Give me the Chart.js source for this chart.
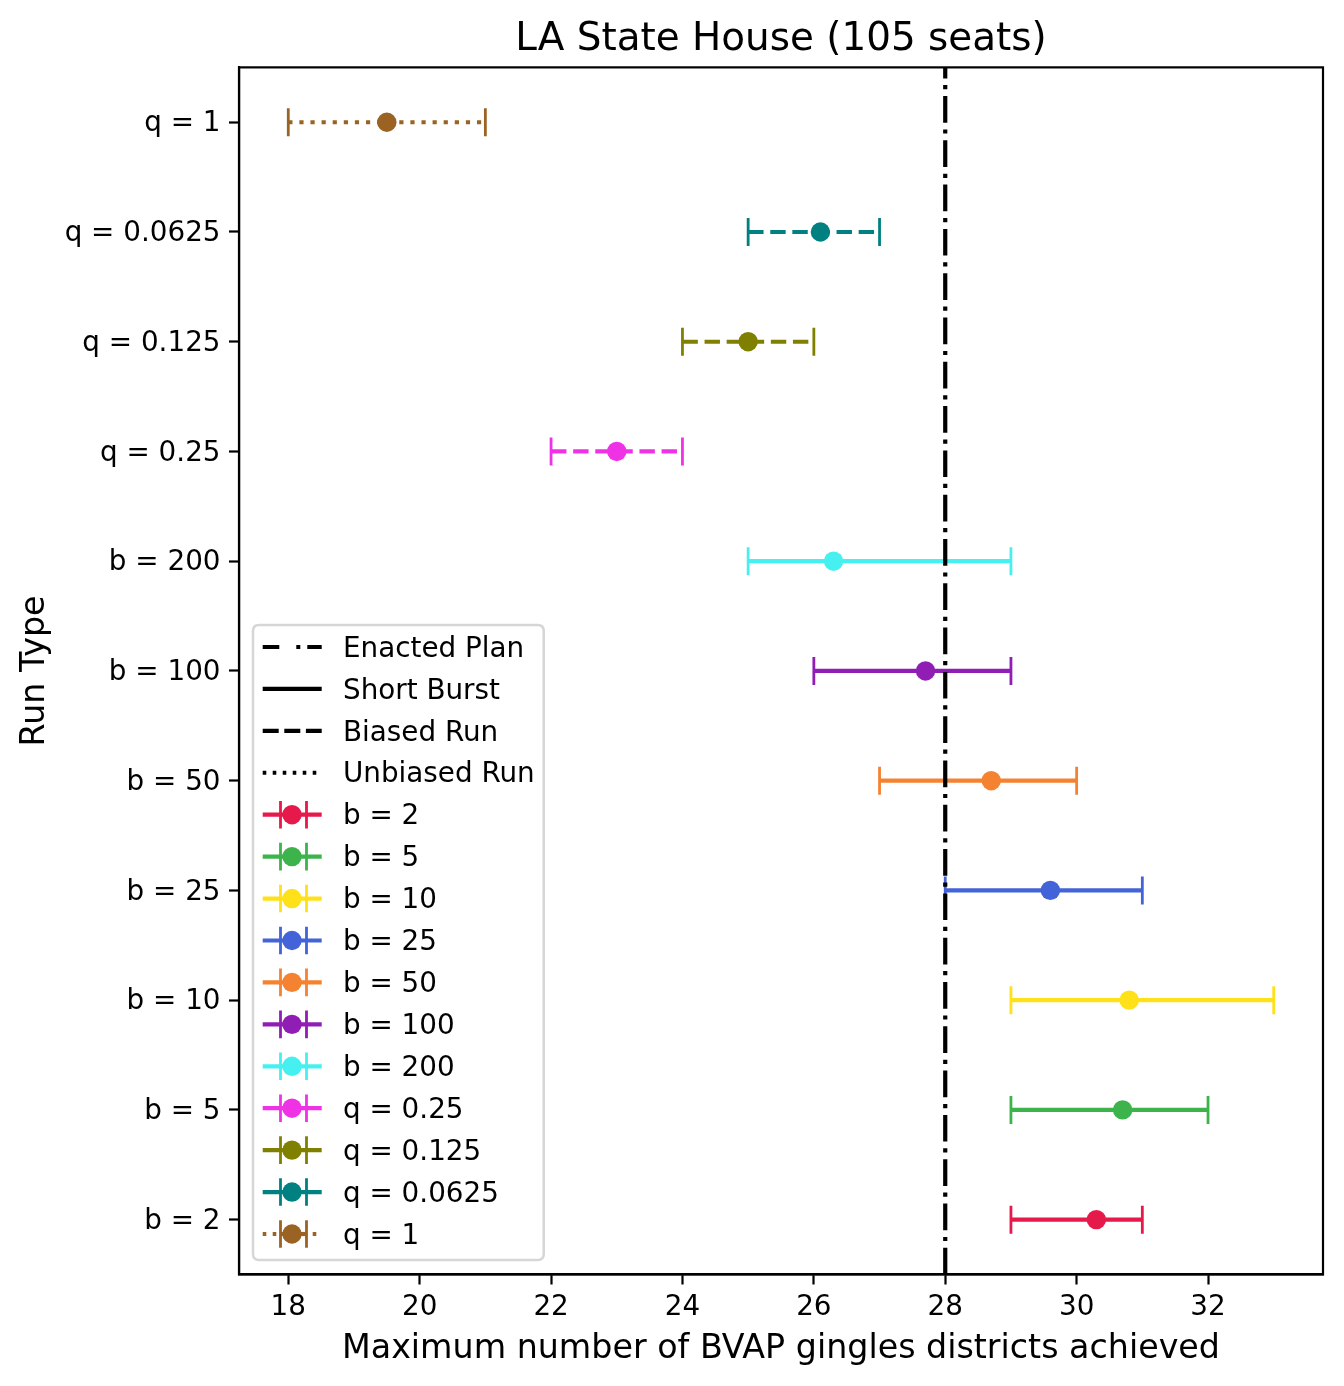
<!DOCTYPE html>
<html>
<head>
<meta charset="utf-8">
<script src="https://cdn.jsdelivr.net/npm/chart.js@4.4.1/dist/chart.umd.min.js"></script>
<style>
html, body { margin: 0; padding: 0; background: #ffffff; }
#wrap { width: 1344px; height: 1386px; position: relative; }
</style>
</head>
<body>
<div id="wrap"><canvas id="c"></canvas></div>
<script>
// ---- data ----
const runLabels = ['b = 2', 'b = 5', 'b = 10', 'b = 25', 'b = 50', 'b = 100', 'b = 200',
                   'q = 0.25', 'q = 0.125', 'q = 0.0625', 'q = 1'];
const maxMean = [30.3, 30.7, 30.8, 29.6, 28.7, 27.7, 26.3, 23.0, 25.0, 26.1, 19.5];
const maxLow  = [29, 29, 29, 28, 27, 26, 25, 22, 24, 25, 18];
const maxHigh = [31, 32, 33, 31, 30, 29, 29, 24, 26, 27, 21];
const runStyles = ['solid', 'solid', 'solid', 'solid', 'solid', 'solid', 'solid',
                   'dashed', 'dashed', 'dashed', 'dotted'];
const runColors = ['#e6194b', '#3cb44b', '#ffe119', '#4363d8', '#f58231', '#911eb4',
                   '#46f0f0', '#f032e6', '#808000', '#008080', '#9a6324'];
const enactedValue = 28;
const xTickValues = [18, 20, 22, 24, 26, 28, 30, 32];
const styleLegendLabels = ['Enacted Plan', 'Short Burst', 'Biased Run', 'Unbiased Run'];
const styleLegendKinds = ['dashdot', 'solid', 'dashed', 'dotted'];

// ---- styles ----
const FONT = "'DejaVu Sans', sans-serif";
const LW = 4.2;
const dashes = {
  solid: [],
  dashed: [15.4, 6.7],
  dotted: [4.2, 6.9],
  dashdot: [26.7, 6.7, 4.2, 6.7]
};
const legendDashes = {
  solid: [],
  dashed: [16, 5.6],
  dotted: [3.6, 6.4],
  dashdot: [16.6, 17, 4, 7]
};

const datasets = [];
datasets.push({
  label: 'Enacted Plan',
  data: [{x: enactedValue, y: -0.5}, {x: enactedValue, y: 10.5}],
  borderColor: '#000000',
  borderWidth: LW,
  borderDash: dashes.dashdot,
  pointRadius: 0,
  showLine: true
});
runLabels.forEach((lab, i) => {
  datasets.push({
    label: lab,
    data: [{x: maxLow[i], y: i}, {x: maxMean[i], y: i}, {x: maxHigh[i], y: i}],
    borderColor: runColors[i],
    backgroundColor: runColors[i],
    borderWidth: LW,
    borderDash: dashes[runStyles[i]],
    showLine: true,
    pointStyle: ['line', 'circle', 'line'],
    pointRotation: [90, 0, 90],
    pointRadius: [14, 9.7, 14],
    pointHoverRadius: [14, 9.7, 14],
    pointBorderWidth: [2.8, 0, 2.8],
    pointBackgroundColor: runColors[i],
    pointBorderColor: runColors[i]
  });
});

const framePlugin = {
  id: 'frame',
  afterDatasetsDraw(chart) {
    const {ctx, chartArea: a} = chart;
    ctx.save();
    ctx.strokeStyle = '#000';
    ctx.lineWidth = 2.2;
    ctx.setLineDash([]);
    ctx.strokeRect(a.left, a.top, a.right - a.left, a.bottom - a.top);
    ctx.restore();
  }
};

const legendPlugin = {
  id: 'mplLegend',
  afterDraw(chart) {
    const {ctx, chartArea: a} = chart;
    const fontSize = 27.8;
    const rowH = 41.93;
    const entries = [];
    styleLegendLabels.forEach((t, k) => entries.push({text: t, kind: styleLegendKinds[k], color: '#000', err: false}));
    runLabels.forEach((t, i) => entries.push({text: t, kind: runStyles[i], color: runColors[i], err: true}));
    ctx.save();
    ctx.font = fontSize + 'px ' + FONT;
    let maxW = 0;
    entries.forEach(e => { maxW = Math.max(maxW, ctx.measureText(e.text).width); });
    const boxL = a.left + 14;
    const boxB = a.bottom - 14.5;
    const boxH = 22 + (entries.length - 1) * rowH + 26;
    const boxT = boxB - boxH;
    const boxW = 90 + maxW + 9;
    // frame
    const r = 6;
    ctx.beginPath();
    ctx.moveTo(boxL + r, boxT);
    ctx.lineTo(boxL + boxW - r, boxT);
    ctx.quadraticCurveTo(boxL + boxW, boxT, boxL + boxW, boxT + r);
    ctx.lineTo(boxL + boxW, boxB - r);
    ctx.quadraticCurveTo(boxL + boxW, boxB, boxL + boxW - r, boxB);
    ctx.lineTo(boxL + r, boxB);
    ctx.quadraticCurveTo(boxL, boxB, boxL, boxB - r);
    ctx.lineTo(boxL, boxT + r);
    ctx.quadraticCurveTo(boxL, boxT, boxL + r, boxT);
    ctx.closePath();
    ctx.fillStyle = 'rgba(255,255,255,0.8)';
    ctx.fill();
    ctx.strokeStyle = '#d6d6d6';
    ctx.lineWidth = 2.5;
    ctx.stroke();

    const x0 = boxL + 9.7, x1 = boxL + 68.7;
    const capL = boxL + 27.5, capR = boxL + 53.5, cx = boxL + 39;
    entries.forEach((e, k) => {
      const y = boxT + 22 + k * rowH;
      ctx.lineCap = 'butt';
      ctx.strokeStyle = e.color;
      ctx.lineWidth = LW;
      if (!e.err) {
        ctx.setLineDash(legendDashes[e.kind]);
        ctx.beginPath(); ctx.moveTo(x0, y); ctx.lineTo(x1, y); ctx.stroke();
      } else {
        if (e.kind === 'dotted') {
          ctx.setLineDash(legendDashes.dotted);
          ctx.beginPath(); ctx.moveTo(x0, y); ctx.lineTo(x1, y); ctx.stroke();
          ctx.setLineDash([]);
          ctx.beginPath(); ctx.moveTo(capL, y); ctx.lineTo(capR, y); ctx.stroke();
        } else {
          ctx.setLineDash([]);
          ctx.beginPath(); ctx.moveTo(x0, y); ctx.lineTo(x1, y); ctx.stroke();
        }
        ctx.setLineDash([]);
        ctx.lineWidth = 2.8;
        ctx.beginPath();
        ctx.moveTo(capL, y - 13.8); ctx.lineTo(capL, y + 13.8);
        ctx.moveTo(capR, y - 13.8); ctx.lineTo(capR, y + 13.8);
        ctx.stroke();
        ctx.fillStyle = e.color;
        ctx.beginPath(); ctx.arc(cx, y, 9.7, 0, Math.PI * 2); ctx.fill();
      }
      ctx.setLineDash([]);
      ctx.fillStyle = '#000';
      ctx.textAlign = 'left';
      ctx.textBaseline = 'middle';
      ctx.fillText(e.text, boxL + 90, y + 2.5);
    });
    ctx.restore();
  }
};

const tickFont = {family: FONT, size: 27.8};
const labelFont = {family: FONT, size: 33.3};

new Chart(document.getElementById('c'), {
  type: 'scatter',
  data: {datasets},
  plugins: [framePlugin, legendPlugin],
  options: {
    responsive: true,
    maintainAspectRatio: false,
    animation: false,
    events: [],
    layout: {padding: {left: 0, right: 21, top: 0, bottom: 0}},
    plugins: {
      legend: {display: false},
      tooltip: {enabled: false},
      title: {
        display: true,
        text: 'LA State House (105 seats)',
        color: '#000',
        font: {family: FONT, size: 38.9, weight: 'normal'},
        padding: {top: 16.8, bottom: 3.9},
        fullSize: false
      }
    },
    scales: {
      x: {
        type: 'linear',
        min: 17.25,
        max: 33.75,
        afterBuildTicks: s => { s.ticks = xTickValues.map(v => ({value: v})); },
        afterFit: s => { s.height = 111.5; },
        ticks: {
          font: tickFont, color: '#000', padding: 6.3, maxRotation: 0, autoSkip: false,
          callback: v => String(v)
        },
        grid: {drawOnChartArea: false, drawTicks: true, tickLength: 10, tickWidth: 2.2, tickColor: '#000'},
        border: {display: true, color: '#000', width: 2.2},
        title: {
          display: true,
          text: 'Maximum number of BVAP gingles districts achieved',
          color: '#000',
          font: labelFont,
          padding: {top: 0, bottom: 17}
        }
      },
      y: {
        type: 'linear',
        min: -0.5,
        max: 10.5,
        afterBuildTicks: s => { s.ticks = runLabels.map((_, i) => ({value: i})); },
        afterFit: s => { s.width = 239; },
        ticks: {
          font: tickFont, color: '#000', padding: 8.5, autoSkip: false, labelOffset: 2,
          callback: v => runLabels[v]
        },
        grid: {drawOnChartArea: false, drawTicks: true, tickLength: 10, tickWidth: 2.2, tickColor: '#000'},
        border: {display: true, color: '#000', width: 2.2},
        title: {
          display: true,
          text: 'Run Type',
          color: '#000',
          font: labelFont,
          padding: {top: 15.5, bottom: 0}
        }
      }
    }
  }
});
</script>
</body>
</html>
